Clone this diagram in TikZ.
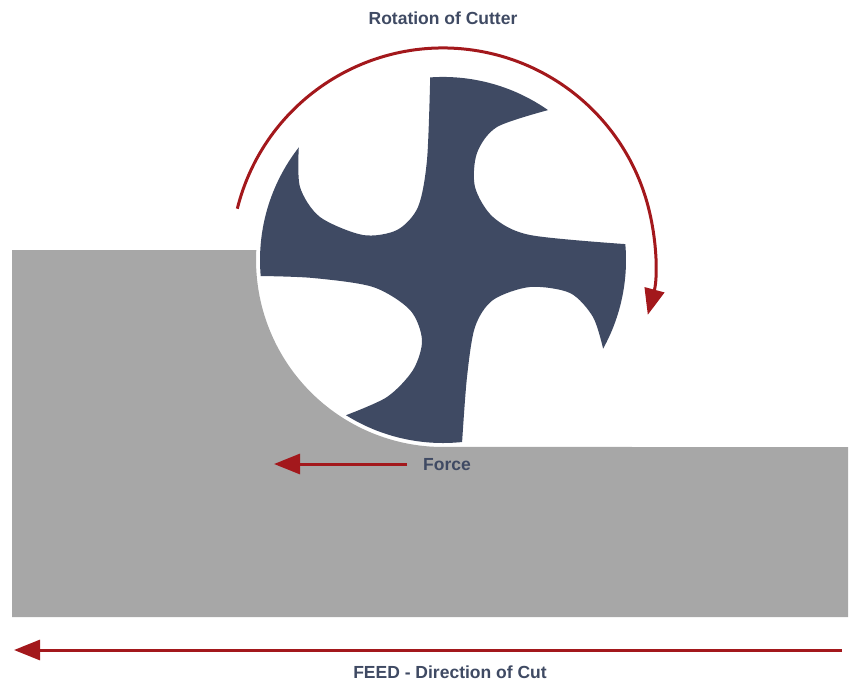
\documentclass[tikz,border=0pt]{standalone}
\usepackage{fontspec}
\setmainfont{Liberation Sans}
\usetikzlibrary{arrows.meta}
\definecolor{navy}{HTML}{3F4A63}
\definecolor{cred}{HTML}{A3181C}
\definecolor{stock}{HTML}{A7A7A7}
\begin{document}
\begin{tikzpicture}[x=1pt,y=-1pt,
  lbl/.style={font=\bfseries\fontsize{17.5}{20}\selectfont, text=navy},
  redarrow/.style={draw=cred, line width=3pt, -{Triangle[length=26pt,width=20pt]}}]
\useasboundingbox (0,0) rectangle (857,683);
% workpiece
\fill[stock] (12,250) -- (256.3,250.2) arc[start angle=183,end angle=90,radius=187]
  -- (848,447) -- (848,617) -- (12,617) -- cycle;
% cutter
\fill[navy] (430.2,77.4) arc[start angle=-94,end angle=-55,radius=183]
  -- plot[smooth] coordinates {(548,110.1) (497,127) (477,153) (475,187) (493,217) (530,235) (625.3,244.1)}
  arc[start angle=-5,end angle=29,radius=183]
  -- plot[smooth] coordinates {(603.1,348.7) (593,317) (570,293) (530,287) (493,300) (475,327) (467,377) (462.1,442)}
  arc[start angle=84,end angle=122,radius=183]
  -- plot[smooth] coordinates {(346,415.2) (387,397) (413,370) (422,340) (410,310) (373,287) (313,278) (260.7,276)}
  arc[start angle=175,end angle=218,radius=183]
  -- plot[smooth] coordinates {(298.8,147.3) (300,187) (320,217) (363,235) (397,230) (418,207) (427,160) (430.2,77.4)}
  -- cycle;
% rotation arrow
\draw[redarrow] (237.3,208.7) arc[start angle=194,end angle=375,radius=212];
% labels
\node[lbl] (rot) at (443,18) {Rotation of Cutter};
\node[lbl] (force) at (447,465) {Force};
\node[lbl] (feed) at (450,672) {FEED - Direction of Cut};
\coordinate (fs) at (407,464);
\coordinate (fe) at (274,464);
\coordinate (ds) at (842,650);
\coordinate (de) at (14,650);
\draw[redarrow] (fs) -- (fe);
\draw[redarrow] (ds) -- (de);
\end{tikzpicture}
\end{document}
